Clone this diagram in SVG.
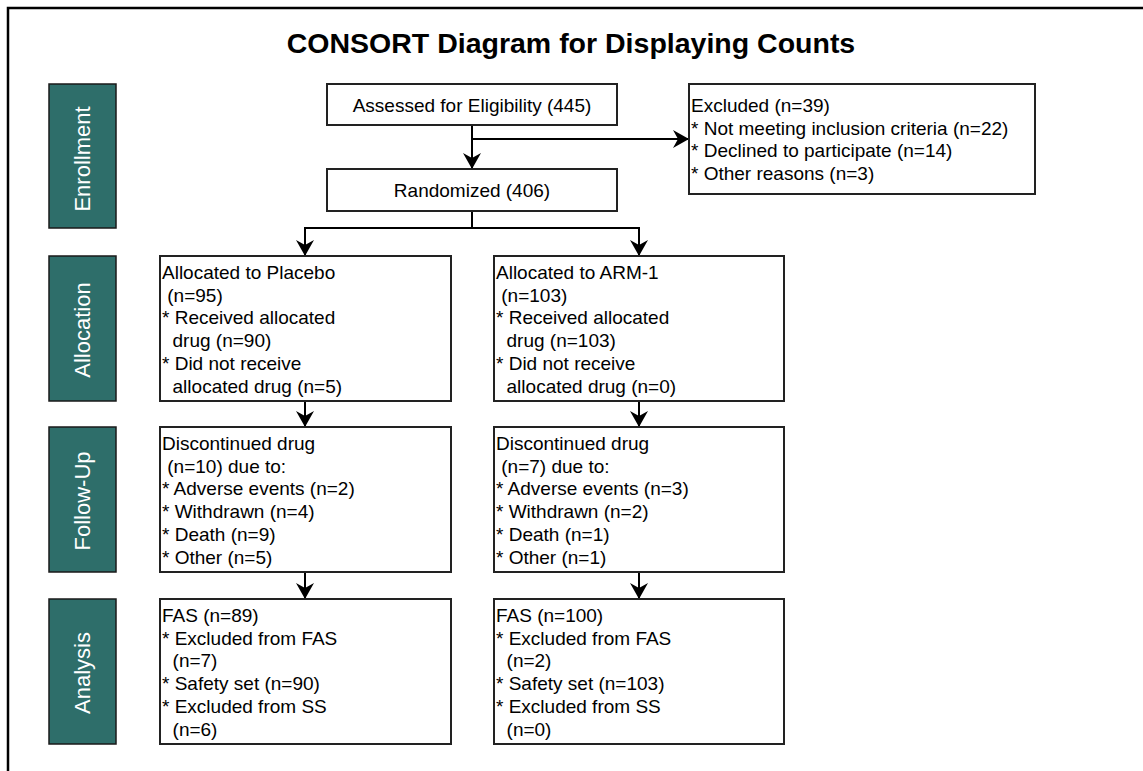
<svg xmlns="http://www.w3.org/2000/svg" width="1143" height="771" viewBox="0 0 1143 771">
<style>
.frame{fill:none;stroke:#000;stroke-width:2.5}
.band{fill:#2e6e6a;stroke:#1a1a1a;stroke-width:1.5}
.bandtxt{fill:#fff;font-family:"Liberation Sans",Arial,sans-serif;font-size:22px;text-anchor:middle}
.box{fill:#fff;stroke:#222;stroke-width:2}
.t{fill:#000;font-family:"Liberation Sans",Arial,sans-serif;font-size:19px}
.c{text-anchor:middle}
.title{fill:#000;font-family:"Liberation Sans",Arial,sans-serif;font-size:28.5px;font-weight:bold;text-anchor:middle}
.ln{fill:none;stroke:#000;stroke-width:2}
</style>
<defs>
<marker id="arr" markerUnits="userSpaceOnUse" markerWidth="18" markerHeight="18" viewBox="0 0 16 18" refX="16" refY="9" orient="auto">
<path d="M0,0 L16,9 L0,18 L5,9 Z" fill="#000"/>
</marker>
</defs>
<rect width="1143" height="771" fill="#fff"/>
<path class="frame" d="M8,771 L8,8 L1143,8"/>
<text class="title" x="571" y="53">CONSORT Diagram for Displaying Counts</text>

<g id="band-enrollment"><rect class="band" x="49" y="84" width="67" height="144"/><text class="bandtxt" transform="translate(90,159) rotate(-90)">Enrollment</text></g>
<g id="band-allocation"><rect class="band" x="49" y="256" width="67" height="145"/><text class="bandtxt" transform="translate(90,330) rotate(-90)">Allocation</text></g>
<g id="band-followup"><rect class="band" x="49" y="427" width="67" height="145"/><text class="bandtxt" transform="translate(90,501) rotate(-90)">Follow-Up</text></g>
<g id="band-analysis"><rect class="band" x="49" y="599" width="67" height="145"/><text class="bandtxt" transform="translate(90,673) rotate(-90)">Analysis</text></g>

<g id="connectors">
<path class="ln" d="M472,125 L472,169" marker-end="url(#arr)"/>
<path class="ln" d="M472,139 L689,139" marker-end="url(#arr)"/>
<path class="ln" d="M472,211 L472,228"/>
<path class="ln" d="M305,228 L639,228"/>
<path class="ln" d="M305,227 L305,256" marker-end="url(#arr)"/>
<path class="ln" d="M639,227 L639,256" marker-end="url(#arr)"/>
<path class="ln" d="M305,401 L305,427" marker-end="url(#arr)"/>
<path class="ln" d="M639,401 L639,427" marker-end="url(#arr)"/>
<path class="ln" d="M305,572 L305,599" marker-end="url(#arr)"/>
<path class="ln" d="M639,572 L639,599" marker-end="url(#arr)"/>
</g>

<g id="assessed"><rect class="box" x="327" y="84" width="290" height="41"/><text class="t c" x="472" y="111.5">Assessed for Eligibility (445)</text></g>
<g id="randomized"><rect class="box" x="327" y="169" width="290" height="42"/><text class="t c" x="472" y="197">Randomized (406)</text></g>
<g id="excluded"><rect class="box" x="689" y="84" width="346" height="110"/>
<text class="t" x="691" xml:space="preserve"><tspan x="691" y="112">Excluded (n=39)</tspan><tspan x="691" y="134.5">* Not meeting inclusion criteria (n=22)</tspan><tspan x="691" y="157">* Declined to participate (n=14)</tspan><tspan x="691" y="179.5">* Other reasons (n=3)</tspan></text></g>

<g id="alloc-placebo"><rect class="box" x="160" y="256" width="291" height="145"/>
<text class="t" xml:space="preserve"><tspan x="162" y="279">Allocated to Placebo</tspan><tspan x="162" y="301.7"> (n=95)</tspan><tspan x="162" y="324.4">* Received allocated</tspan><tspan x="162" y="347">  drug (n=90)</tspan><tspan x="162" y="369.8">* Did not receive</tspan><tspan x="162" y="392.5">  allocated drug (n=5)</tspan></text></g>
<g id="alloc-arm1"><rect class="box" x="494" y="256" width="290" height="145"/>
<text class="t" xml:space="preserve"><tspan x="496" y="279">Allocated to ARM-1</tspan><tspan x="496" y="301.7"> (n=103)</tspan><tspan x="496" y="324.4">* Received allocated</tspan><tspan x="496" y="347">  drug (n=103)</tspan><tspan x="496" y="369.8">* Did not receive</tspan><tspan x="496" y="392.5">  allocated drug (n=0)</tspan></text></g>

<g id="follow-placebo"><rect class="box" x="160" y="427" width="291" height="145"/>
<text class="t" xml:space="preserve"><tspan x="162" y="450">Discontinued drug</tspan><tspan x="162" y="472.7"> (n=10) due to:</tspan><tspan x="162" y="495.4">* Adverse events (n=2)</tspan><tspan x="162" y="518">* Withdrawn (n=4)</tspan><tspan x="162" y="540.8">* Death (n=9)</tspan><tspan x="162" y="563.5">* Other (n=5)</tspan></text></g>
<g id="follow-arm1"><rect class="box" x="494" y="427" width="290" height="145"/>
<text class="t" xml:space="preserve"><tspan x="496" y="450">Discontinued drug</tspan><tspan x="496" y="472.7"> (n=7) due to:</tspan><tspan x="496" y="495.4">* Adverse events (n=3)</tspan><tspan x="496" y="518">* Withdrawn (n=2)</tspan><tspan x="496" y="540.8">* Death (n=1)</tspan><tspan x="496" y="563.5">* Other (n=1)</tspan></text></g>

<g id="analysis-placebo"><rect class="box" x="160" y="599" width="291" height="145"/>
<text class="t" xml:space="preserve"><tspan x="162" y="622">FAS (n=89)</tspan><tspan x="162" y="644.7">* Excluded from FAS</tspan><tspan x="162" y="667.4">  (n=7)</tspan><tspan x="162" y="690">* Safety set (n=90)</tspan><tspan x="162" y="712.8">* Excluded from SS</tspan><tspan x="162" y="735.5">  (n=6)</tspan></text></g>
<g id="analysis-arm1"><rect class="box" x="494" y="599" width="290" height="145"/>
<text class="t" xml:space="preserve"><tspan x="496" y="622">FAS (n=100)</tspan><tspan x="496" y="644.7">* Excluded from FAS</tspan><tspan x="496" y="667.4">  (n=2)</tspan><tspan x="496" y="690">* Safety set (n=103)</tspan><tspan x="496" y="712.8">* Excluded from SS</tspan><tspan x="496" y="735.5">  (n=0)</tspan></text></g>
</svg>
